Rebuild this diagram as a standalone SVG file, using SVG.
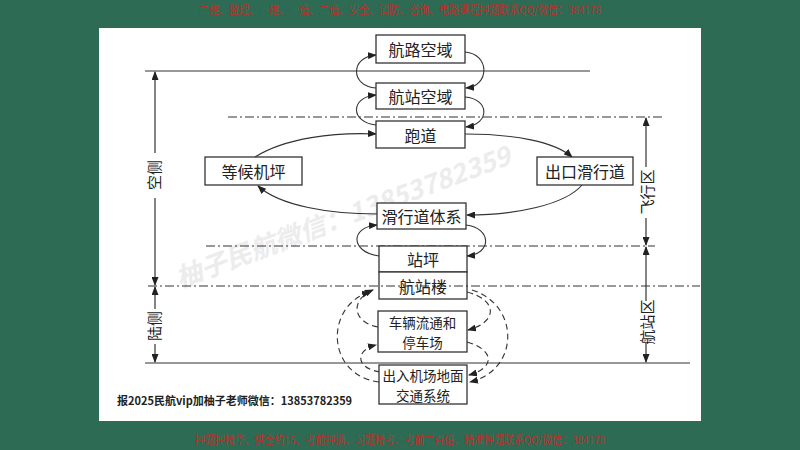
<svg xmlns="http://www.w3.org/2000/svg" width="800" height="450" viewBox="0 0 800 450">
<style>
.box{fill:#fff;stroke:#333;stroke-width:1.3}
.lbl{font-family:"Noto Sans CJK SC","Liberation Sans",sans-serif;font-size:16px;fill:#222;text-anchor:middle;dominant-baseline:central}
.lbl2{font-family:"Noto Sans CJK SC","Liberation Sans",sans-serif;font-size:13.5px;fill:#222;text-anchor:middle;dominant-baseline:central}
.side{font-family:"Noto Sans CJK SC","Liberation Sans",sans-serif;font-size:15px;fill:#222;text-anchor:middle;dominant-baseline:central}
.solid{fill:none;stroke:#333;stroke-width:1.2}
.dd{fill:none;stroke:#333;stroke-width:1.2;stroke-dasharray:9 3 2 3}
.con{fill:none;stroke:#333;stroke-width:1.1;marker-end:url(#ah)}
.dash{fill:none;stroke:#333;stroke-width:1.1;stroke-dasharray:6 4;marker-end:url(#ah)}
.dim{fill:none;stroke:#333;stroke-width:1.2}
.red{font-family:"Noto Sans CJK SC",sans-serif;font-size:11px;fill:#b8322c;text-anchor:middle}
</style>
<defs>
<marker id="ah" markerWidth="9" markerHeight="7" refX="8" refY="3.5" orient="auto" markerUnits="userSpaceOnUse">
<path d="M0,0 L9,3.5 L0,7 Z" fill="#222"/>
</marker>
<marker id="as" markerWidth="9" markerHeight="7" refX="1" refY="3.5" orient="auto" markerUnits="userSpaceOnUse">
<path d="M9,0 L0,3.5 L9,7 Z" fill="#222"/>
</marker>
</defs>
<rect x="0" y="0" width="800" height="450" fill="#2e6b55"/>
<rect x="99" y="28" width="602" height="393" fill="#fff"/>
<text class="red" x="400" y="14" textLength="402" lengthAdjust="spacingAndGlyphs">二建、监理、一建、一造、二造、安全、消防、咨询、电路课程押题联系QQ/微信：384178</text>
<text class="red" x="400" y="444" textLength="410" lengthAdjust="spacingAndGlyphs">押题押精华、供全约15、考前押满、习题精考、考前二百倍、精准押题联系QQ/微信：384178</text>
<text x="180" y="288" transform="rotate(-20.5 180 288)" font-family="Noto Sans CJK SC, sans-serif" font-size="26" font-style="italic" font-weight="bold" fill="#ececec" textLength="355" lengthAdjust="spacingAndGlyphs">柚子民航微信：13853782359</text>
<g id="lines">
<line class="solid" x1="145" y1="71" x2="590" y2="71"/>
<line class="dd" x1="228" y1="117" x2="665" y2="117"/>
<line class="dd" x1="206" y1="246" x2="655" y2="246"/>
<line class="solid" x1="145" y1="363" x2="690" y2="363"/>
</g>
<g id="dims">
<line class="dim" x1="155" y1="72" x2="155" y2="153" marker-start="url(#as)"/>
<line class="dim" x1="155" y1="198" x2="155" y2="285" marker-end="url(#ah)"/>
<line class="dim" x1="155" y1="287" x2="155" y2="309" marker-start="url(#as)"/>
<line class="dim" x1="155" y1="344" x2="155" y2="362" marker-end="url(#ah)"/>
<line class="dim" x1="646" y1="118" x2="646" y2="167" marker-start="url(#as)"/>
<line class="dim" x1="646" y1="218" x2="646" y2="245" marker-end="url(#ah)"/>
<line class="dim" x1="646" y1="247" x2="646" y2="301" marker-start="url(#as)"/>
<line class="dim" x1="646" y1="343" x2="646" y2="362" marker-end="url(#ah)"/>
<text class="side" transform="translate(153 175) rotate(-90)">空侧</text>
<text class="side" transform="translate(153 326) rotate(-90)">陆侧</text>
<text class="side" transform="translate(646 192) rotate(-90)">飞行区</text>
<text class="side" transform="translate(646 322) rotate(-90)">航站区</text>
</g>
<g id="connectors">
<path class="con" d="M376,88 C350,86 350,57 376,55"/>
<path class="con" d="M465,52 C490,54 490,86 466,88"/>
<path class="con" d="M376,125 C350,122 350,97 376,95"/>
<path class="con" d="M465,97 C490,99 490,124 466,127"/>
<path class="con" d="M255,157 C285,138 335,132 376,134"/>
<path class="con" d="M465,134 C515,134 555,142 572,157"/>
<path class="con" d="M582,185 C565,205 515,215 467,215"/>
<path class="con" d="M377,214 C330,214 280,206 258,186"/>
<path class="con" d="M379,256 C350,252 350,227 377,225"/>
<path class="con" d="M466,225 C492,228 492,254 467,256"/>
<path class="dash" d="M378,327 C352,322 350,300 373,290"/>
<path class="dash" d="M379,382 C325,375 325,305 370,292"/>
<path class="dash" d="M380,372 C355,368 355,350 376,345"/>
<path class="dash" d="M467,292 C498,300 498,322 468,330"/>
<path class="dash" d="M472,290 C520,305 520,370 470,382"/>
<path class="dash" d="M467,342 C495,350 495,368 469,375"/>
</g>
<g id="n1"><rect class="box" x="376" y="35" width="89" height="28"/><text class="lbl" x="420.5" y="49">航路空域</text></g>
<g id="n2"><rect class="box" x="376" y="83" width="89" height="26"/><text class="lbl" x="420.5" y="96">航站空域</text></g>
<g id="n3"><rect class="box" x="376" y="121" width="89" height="27"/><text class="lbl" x="420.5" y="134.5">跑道</text></g>
<g id="n4"><rect class="box" x="205" y="157" width="97" height="28"/><text class="lbl" x="253.5" y="171">等候机坪</text></g>
<g id="n5"><rect class="box" x="537" y="157" width="96" height="28"/><text class="lbl" x="585" y="171">出口滑行道</text></g>
<g id="n6"><rect class="box" x="377" y="203" width="89" height="26"/><text class="lbl" x="421.5" y="216">滑行道体系</text></g>
<g id="n7"><rect class="box" x="379" y="246" width="88" height="26"/><text class="lbl" x="423" y="259">站坪</text></g>
<g id="n8"><rect class="box" x="379" y="272" width="88" height="27"/><text class="lbl" x="423" y="285.5">航站楼</text></g>
<line class="dd" x1="148" y1="286" x2="700" y2="286"/>
<g id="n9"><rect class="box" x="378" y="311" width="89" height="41"/><text class="lbl2" x="422.5" y="321.5">车辆流通和</text><text class="lbl2" x="422.5" y="341.5">停车场</text></g>
<g id="n10"><rect class="box" x="379" y="365" width="88" height="39"/><text class="lbl2" x="423" y="374.8">出入机场地面</text><text class="lbl2" x="423" y="394.6">交通系统</text></g>
<text x="117" y="405" font-family="Noto Sans CJK SC, sans-serif" font-size="11" font-weight="bold" fill="#222">报2025民航vip加柚子老师微信：13853782359</text>
</svg>
